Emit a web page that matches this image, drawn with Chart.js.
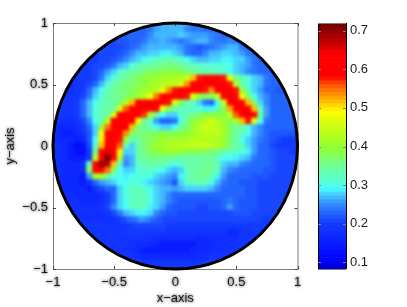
<!DOCTYPE html>
<html>
<head>
<meta charset="utf-8">
<title>Field map</title>
<script src="https://cdn.jsdelivr.net/npm/chart.js@4"></script>
<style>
  html, body { margin: 0; background: #fff; }
  #wrap { position: relative; width: 407px; height: 307px; overflow: hidden; }
  canvas { position: absolute; top: 0; }
  #field { left: 0; }
  #bar { left: 300px; }
</style>
</head>
<body>
<div id="wrap">
  <canvas id="field" width="407" height="307"></canvas>
  <canvas id="bar" width="107" height="307"></canvas>
</div>
<script>
'use strict';

const axisTicks = [-1, -0.5, 0, 0.5, 1];
const barTicks = [0.1, 0.2, 0.3, 0.4, 0.5, 0.6, 0.7];
const barRange = [0.0826, 0.72];
const barLevels = 64;
const cellStep = 0.05;

// cell rows from y = 1 down to y = -1, each centred on x = 0, values x100
const rowY = [1, 0.95, 0.9, 0.85, 0.8, 0.75, 0.7, 0.65, 0.6, 0.55, 0.5, 0.45, 0.4, 0.35, 0.3, 0.25, 0.2, 0.15, 0.1, 0.05, 0,
  -0.05, -0.1, -0.15, -0.2, -0.25, -0.3, -0.35, -0.4, -0.45, -0.5, -0.55, -0.6, -0.65, -0.7, -0.75, -0.8, -0.85, -0.9, -0.95, -1];
const rowValues = [
  [27,27,27,27,27],
  [23,23,23,24,26,27,27,27,27,25,24,24,23,23,23],
  [22,22,23,23,23,23,25,27,27,27,27,28,27,26,26,26,25,24,23,23,23],
  [21,21,21,22,22,23,23,24,26,26,27,26,25,24,25,26,27,27,25,24,24,25,24,23,23],
  [21,21,21,21,21,22,23,24,26,27,27,27,27,27,26,24,23,22,23,24,25,26,27,27,24,23,23],
  [20,20,21,21,21,22,23,25,27,27,28,28,29,29,28,27,24,23,23,25,27,27,28,28,27,26,24,23,23],
  [20,20,20,21,21,22,23,25,27,28,30,31,32,33,34,33,32,30,28,27,27,28,28,29,29,28,28,26,24,23,23],
  [20,20,20,21,21,22,24,27,28,31,33,34,35,35,36,36,36,35,34,33,32,31,31,31,31,30,28,27,26,24,23,23,23],
  [19,19,20,20,21,23,26,28,31,34,35,35,37,38,38,39,39,39,39,37,36,35,34,34,33,32,30,28,27,25,24,23,23,23,23],
  [19,19,19,20,20,21,24,28,31,34,35,37,38,39,40,41,41,42,42,43,45,52,58,59,61,60,58,47,36,33,31,28,27,24,23,23,23],
  [19,18,19,20,21,23,27,31,34,35,37,37,38,39,41,42,43,44,44,46,54,59,61,62,63,63,62,58,43,34,31,28,27,24,23,23,23],
  [20,19,18,19,20,23,27,30,33,35,36,37,38,39,41,42,43,48,54,58,60,61,62,61,58,54,59,62,63,58,40,32,28,26,23,23,22,22,22],
  [21,19,19,19,21,24,28,31,34,35,36,37,39,41,43,48,55,60,61,62,61,58,47,41,38,38,45,59,63,61,50,38,30,27,25,23,23,23,23],
  [21,19,19,20,23,27,30,33,34,35,37,44,52,59,61,62,62,61,58,47,39,34,33,28,24,23,30,46,60,62,61,52,38,28,25,23,23,23,23],
  [21,19,19,20,23,27,31,33,34,35,46,56,61,62,63,62,59,48,39,35,33,32,32,31,29,29,33,38,53,61,63,62,52,32,26,23,23,23,23],
  [20,19,19,20,23,27,31,33,34,46,59,62,63,62,57,43,34,30,28,28,32,34,36,37,39,39,39,39,44,56,63,65,59,36,26,23,23,23,23],
  [19,18,18,19,21,25,30,34,44,59,62,63,61,50,36,32,26,23,23,24,30,36,39,41,43,46,43,41,39,42,52,58,46,30,24,23,23,23,23],
  [18,17,17,17,18,20,23,28,40,55,62,63,61,52,37,35,33,30,28,28,30,35,37,41,44,45,45,44,41,38,35,34,31,27,25,23,23,23,23,23,23],
  [18,17,15,15,17,19,22,28,48,60,63,62,54,38,36,37,37,38,39,38,38,39,40,41,43,44,44,44,42,38,35,33,30,27,25,23,22,22,22,22,22],
  [18,17,17,17,15,17,22,30,50,61,63,58,40,34,35,37,38,39,41,41,42,42,42,43,43,43,43,42,41,37,34,30,28,26,24,23,22,21,20,20,20],
  [19,18,17,15,12,13,21,32,52,61,63,56,34,28,35,37,39,41,42,43,43,44,44,45,45,45,44,43,41,37,35,33,28,26,23,23,21,20,20,20,20],
  [18,18,17,15,13,13,20,36,59,66,62,50,28,28,34,36,38,39,40,41,41,40,39,39,38,38,37,36,34,33,32,31,29,26,23,23,22,21,21,20,20],
  [18,18,17,15,15,15,20,44,62,74,61,44,26,27,34,35,36,36,36,36,35,34,34,34,35,35,35,33,30,30,29,28,27,24,23,23,22,21,21,21,21],
  [18,18,17,17,17,19,34,60,70,68,52,32,25,27,32,33,34,34,34,32,30,32,34,34,35,35,35,33,28,27,27,25,24,23,23,23,22,21,21,21,21],
  [18,18,17,17,17,18,38,59,61,55,38,30,28,28,31,32,32,31,30,28,27,28,32,34,35,36,35,33,27,25,24,23,23,23,23,22,22,21,21,21,21],
  [18,17,17,17,14,26,42,42,36,31,30,29,30,31,31,30,28,27,26,25,29,33,35,35,35,34,29,26,23,23,23,23,22,22,22,21,21,21,21],
  [18,17,17,17,15,18,23,26,27,28,30,30,31,31,29,28,27,26,25,22,28,32,33,34,33,30,27,24,23,23,22,22,22,21,21,21,21,21,21],
  [18,17,17,17,17,15,19,21,23,23,28,31,32,33,32,30,28,27,27,26,27,28,28,28,28,27,25,23,23,23,23,22,22,21,21,21,21,21,21],
  [18,18,18,17,17,17,17,18,20,23,28,31,32,33,33,30,28,27,25,23,23,23,23,23,23,23,23,23,23,23,23,22,22,21,21,21,21,21,21],
  [18,18,18,17,17,17,18,20,23,28,30,32,33,33,31,28,27,25,23,22,22,22,22,22,22,22,23,24,23,22,22,22,21,21,21,21,21],
  [18,18,18,18,18,18,19,21,25,28,30,32,33,32,29,28,26,23,22,22,22,22,21,21,22,22,23,26,23,22,22,22,21,21,21,21,21],
  [18,18,18,18,18,18,19,21,24,27,28,29,29,28,25,23,22,22,21,21,21,21,21,21,21,21,21,22,22,22,21,21,21,21,21],
  [19,18,18,18,18,18,19,21,23,24,26,25,23,22,21,21,21,21,21,21,21,21,21,21,21,21,21,21,21,21,20,20],
  [19,19,19,19,19,19,19,19,20,20,21,21,21,21,21,20,20,20,20,20,20,20,20,20,20,20,20,20,20,20,20,20,20],
  [19,19,19,19,19,19,19,20,20,20,20,20,20,20,19,19,19,19,19,19,19,19,19,19,17,17,19,19,20,20,20],
  [19,19,19,19,19,19,19,19,19,19,19,18,18,18,18,18,18,18,17,17,18,18,18,18,18,19,19,19,19],
  [19,19,19,19,19,19,18,18,18,17,17,15,15,15,15,15,15,17,17,17,18,18,18,19,19,19,19],
  [19,19,19,18,18,17,15,15,15,15,15,15,15,15,17,17,17,18,18,18,19,19,19],
  [19,19,19,18,17,17,17,17,17,17,17,17,17,18,18,19,19,19,19],
  [20,20,19,19,19,19,19,19,19,19,19,19,20,20,20],
  [20,20,20,20,20]
];

// colour stops: value, r, g, b
const colorStops = [
  [0.0826, 0, 0, 190], [0.1, 0, 0, 255], [0.15, 10, 30, 255], [0.2, 20, 60, 255], [0.22, 30, 90, 255],
  [0.25, 50, 140, 255], [0.27, 70, 190, 255], [0.29, 70, 255, 255], [0.31, 90, 255, 210], [0.35, 110, 255, 150],
  [0.39, 140, 255, 60], [0.42, 170, 255, 30], [0.47, 225, 255, 10], [0.49, 255, 255, 0], [0.52, 255, 180, 0],
  [0.56, 255, 80, 0], [0.58, 255, 0, 0], [0.64, 255, 0, 0], [0.67, 190, 0, 0], [0.72, 110, 0, 0]
];

function colorFor(v) {
  // snap to the bar's levels so the map shows the same bands
  const step = (barRange[1] - barRange[0]) / barLevels;
  const lvl = Math.min(barLevels - 1, Math.max(0, Math.floor((v - barRange[0]) / step)));
  const c = barRange[0] + (lvl + 0.5) * step;
  let i = 0;
  while (i < colorStops.length - 2 && colorStops[i + 1][0] < c) i++;
  const a = colorStops[i], b = colorStops[i + 1];
  const t = (c - a[0]) / (b[0] - a[0]);
  const mix = k => Math.round(a[k] + (b[k] - a[k]) * t);
  return `rgb(${mix(1)},${mix(2)},${mix(3)})`;
}

const cells = rowValues.flatMap((row, r) => row.map((v, i) => ({
  x: (i - (row.length - 1) / 2) * cellStep,
  y: rowY[r],
  v: v / 100
})));

const tickFont = { family: 'Liberation Sans', size: 13 };
const inkColor = '#1a1a1a';
const frameColor = '#7f7f7f';

function fixedTicks(list) {
  return scale => { scale.ticks = list.map(value => ({ value })); };
}
function tickText(v) {
  return v < 0 ? '\u2212' + Math.abs(v) : String(v);
}

function circlePath(ctx, x, y) {
  ctx.ellipse(x.getPixelForValue(0), y.getPixelForValue(0),
    x.getPixelForValue(1) - x.getPixelForValue(0), y.getPixelForValue(-1) - y.getPixelForValue(0), 0, 0, Math.PI * 2);
}

const fieldPlugin = {
  id: 'fieldPlugin',
  afterDatasetsDraw(chart) {
    const { ctx, canvas, chartArea: a, scales: { x, y } } = chart;

    // soften the cell edges, keep only what is inside the circle
    const copy = document.createElement('canvas');
    copy.width = canvas.width;
    copy.height = canvas.height;
    copy.getContext('2d').drawImage(canvas, 0, 0);
    ctx.save();
    ctx.filter = 'blur(1.5px)';
    ctx.drawImage(copy, 0, 0);
    ctx.filter = 'none';
    ctx.beginPath();
    ctx.rect(a.left - 4, a.top - 4, a.width + 8, a.height + 8);
    circlePath(ctx, x, y);
    ctx.fillStyle = '#fff';
    ctx.fill('evenodd');
    ctx.restore();

    ctx.save();
    ctx.strokeStyle = frameColor;
    ctx.lineWidth = 1;
    ctx.strokeRect(a.left + 0.5, a.top + 0.5, a.width, a.height);
    ctx.strokeStyle = '#444';
    ctx.beginPath();
    axisTicks.forEach(t => {
      const px = Math.round(x.getPixelForValue(t)) + 0.5;
      const py = Math.round(y.getPixelForValue(t)) + 0.5;
      ctx.moveTo(px, a.top); ctx.lineTo(px, a.top + 3);
      ctx.moveTo(px, a.bottom); ctx.lineTo(px, a.bottom - 3);
      ctx.moveTo(a.left, py); ctx.lineTo(a.left + 3, py);
      ctx.moveTo(a.right, py); ctx.lineTo(a.right - 3, py);
    });
    ctx.stroke();
    ctx.strokeStyle = '#000';
    ctx.lineWidth = 3;
    ctx.beginPath();
    circlePath(ctx, x, y);
    ctx.stroke();
    ctx.restore();
  }
};

new Chart(document.getElementById('field'), {
  type: 'scatter',
  data: {
    datasets: [{
      data: cells,
      pointStyle: 'rect',
      pointRadius: 5,
      pointBorderWidth: 0,
      pointBackgroundColor: cells.map(c => colorFor(c.v))
    }]
  },
  options: {
    responsive: false,
    animation: false,
    layout: { padding: { top: 23, right: 109.5, bottom: 0, left: 0 } },
    plugins: { legend: { display: false }, tooltip: { enabled: false } },
    scales: {
      x: {
        type: 'linear', min: -1, max: 1,
        afterBuildTicks: fixedTicks(axisTicks),
        afterFit(s) { s.height = 38; },
        grid: { display: false, drawTicks: false },
        border: { display: false },
        ticks: { font: tickFont, color: inkColor, padding: 6, maxRotation: 0, autoSkip: false, callback: tickText },
        title: { display: true, text: 'x\u2212axis', font: tickFont, color: inkColor, padding: { top: 0, bottom: 1 } }
      },
      y: {
        type: 'linear', min: -1, max: 1,
        afterBuildTicks: fixedTicks(axisTicks),
        afterFit(s) { s.width = 53; },
        grid: { display: false, drawTicks: false },
        border: { display: false },
        ticks: { font: tickFont, color: inkColor, padding: 5, autoSkip: false, callback: tickText },
        title: { display: true, text: 'y\u2212axis', font: tickFont, color: inkColor, padding: { top: 3, bottom: 0 } }
      }
    }
  },
  plugins: [fieldPlugin]
});

// colour bar, one floating bar per level
const levelStep = (barRange[1] - barRange[0]) / barLevels;
const barSets = Array.from({ length: barLevels }, (_, i) => ({
  data: [[barRange[0] + i * levelStep, barRange[0] + (i + 1) * levelStep]],
  backgroundColor: colorFor(barRange[0] + (i + 0.5) * levelStep),
  borderWidth: 0
}));

const barFrame = {
  id: 'barFrame',
  afterDatasetsDraw(chart) {
    const { ctx, chartArea: a, scales: { y } } = chart;
    ctx.save();
    ctx.strokeStyle = '#000';
    ctx.lineWidth = 1;
    ctx.beginPath();
    ctx.moveTo(a.left + 0.5, a.top); ctx.lineTo(a.left + 0.5, a.bottom);
    ctx.moveTo(a.right + 0.5, a.top); ctx.lineTo(a.right + 0.5, a.bottom);
    ctx.stroke();
    ctx.strokeStyle = frameColor;
    ctx.beginPath();
    ctx.moveTo(a.left, a.top + 0.5); ctx.lineTo(a.right, a.top + 0.5);
    ctx.moveTo(a.left, a.bottom + 0.5); ctx.lineTo(a.right, a.bottom + 0.5);
    barTicks.forEach(t => {
      const py = Math.round(y.getPixelForValue(t)) + 0.5;
      ctx.moveTo(a.left, py); ctx.lineTo(a.left + 3, py);
      ctx.moveTo(a.right, py); ctx.lineTo(a.right - 3, py);
    });
    ctx.stroke();
    ctx.restore();
  }
};

new Chart(document.getElementById('bar'), {
  type: 'bar',
  data: { labels: ['level'], datasets: barSets },
  options: {
    responsive: false,
    animation: false,
    datasets: { bar: { grouped: false, barPercentage: 1, categoryPercentage: 1 } },
    layout: { padding: { top: 23, right: 0, bottom: 38, left: 18 } },
    plugins: { legend: { display: false }, tooltip: { enabled: false } },
    scales: {
      x: { display: false },
      y: {
        position: 'right',
        min: barRange[0], max: barRange[1],
        afterBuildTicks: fixedTicks(barTicks),
        afterFit(s) { s.width = 61; },
        grid: { display: false, drawTicks: false },
        border: { display: false },
        ticks: { font: tickFont, color: inkColor, padding: 4, autoSkip: false, callback: v => v.toFixed(1) }
      }
    }
  },
  plugins: [barFrame]
});
</script>
</body>
</html>
